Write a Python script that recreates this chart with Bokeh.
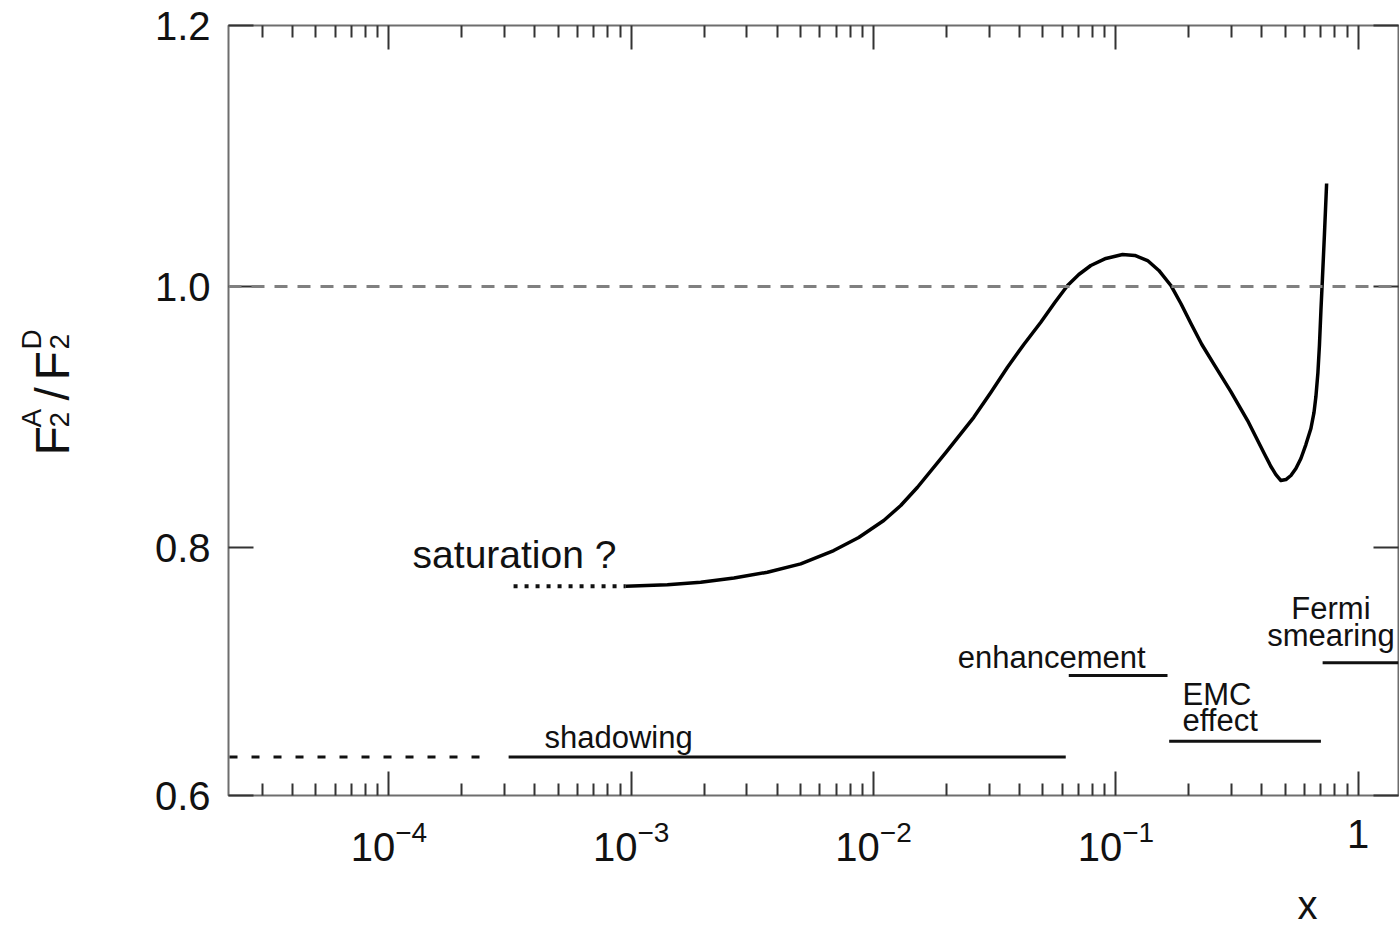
from bokeh.plotting import figure
from bokeh.layouts import row, column
from bokeh.models import (FixedTicker, LogAxis, LinearAxis, LogTickFormatter,
                          CustomJSTickFormatter, Label, Span, Range1d)
from bokeh.embed import file_html
from bokeh.resources import INLINE

FONT = "Liberation Sans"
INK = "#111111"

# ---- data ----
curve_x = [9.49e-4, 1.410e-3, 1.935e-3, 2.655e-3, 3.648e-3, 5.006e-3, 6.851e-3,
           8.686e-3, 1.102e-2, 1.295e-2, 1.518e-2, 1.986e-2, 2.592e-2, 3.047e-2,
           3.570e-2, 4.169e-2, 4.900e-2, 5.597e-2, 6.318e-2, 7.031e-2, 7.880e-2,
           9.090e-2, 0.1065, 0.1197, 0.1351, 0.1504, 0.1686, 0.1854, 0.2040,
           0.2263, 0.2544, 0.2981, 0.3495, 0.4093, 0.4361, 0.4573, 0.4797,
           0.5030, 0.5275, 0.5531, 0.5800, 0.6081, 0.6378, 0.6567, 0.6689,
           0.6818, 0.6916, 0.7015, 0.7116, 0.7253, 0.7405]
curve_y = [0.7703, 0.7714, 0.7734, 0.7766, 0.7811, 0.7875, 0.7977,
           0.8077, 0.8207, 0.8322, 0.8462, 0.8728, 0.8998, 0.9188,
           0.9382, 0.9556, 0.9726, 0.9877, 1.0008, 1.0092, 1.0161,
           1.0215, 1.0245, 1.0238, 1.0199, 1.0123, 1.0008, 0.9870, 0.9716,
           0.9556, 0.9402, 0.9195, 0.8973, 0.8720, 0.8621, 0.8559, 0.8513,
           0.8521, 0.8552, 0.8605, 0.8682, 0.8789, 0.8912, 0.9034, 0.9157,
           0.9341, 0.9548, 0.9816, 1.0061, 1.0399, 1.0789]

saturation_x = [3.27e-4, 9.49e-4]
saturation_y = [0.7703, 0.7703]

shadowing_ext_x = [2.2e-5, 2.52e-4]
shadowing_ext_y = [0.6395, 0.6395]
shadowing_x = [3.12e-4, 0.0621]
shadowing_y = [0.6395, 0.6395]

enhancement_x = [0.0639, 0.1633]
enhancement_y = [0.7019, 0.7019]

emc_x = [0.1659, 0.7015]
emc_y = [0.6516, 0.6516]

fermi_x = [0.7129, 1.466]
fermi_y = [0.7117, 0.7117]

unity = 1.0

x_major = [1e-4, 1e-3, 1e-2, 1e-1, 1.0]
x_minor = [m * 10.0 ** e for e in range(-5, 1) for m in range(2, 10)]
y_ticks = [0.61, 0.8, 1.0, 1.2]
y_tick_labels = {0.61: "0.6", 0.8: "0.8", 1.0: "1.0", 1.2: "1.2"}

TITLE_W = 100   # left strip holding the rotated y-axis title
XLAB_H = 50     # bottom strip holding the x-axis title
W, H = 1399, 928

# ---- main figure ----
p = figure(width=W - TITLE_W, height=H - XLAB_H, x_axis_type="log",
           x_range=Range1d(2.179e-5, 1.466), y_range=Range1d(0.61, 1.2),
           output_backend="svg", toolbar_location=None,
           min_border_left=228 - TITLE_W, min_border_right=1, min_border_top=25,
           min_border_bottom=133 - XLAB_H)
p.grid.visible = False
p.background_fill_color = "white"
p.border_fill_color = "white"
p.outline_line_color = "#6e6e6e"
p.outline_line_width = 2

blank = CustomJSTickFormatter(code="return ''")


def style_axis(ax, major_len, minor_len, labels=True):
    ax.axis_line_color = None
    ax.major_tick_in = major_len
    ax.major_tick_out = 0
    ax.minor_tick_in = minor_len
    ax.minor_tick_out = 0
    ax.major_tick_line_color = "#333333"
    ax.major_tick_line_width = 2
    ax.minor_tick_line_color = "#333333" if minor_len else None
    ax.minor_tick_line_width = 2
    if labels:
        ax.major_label_text_font = FONT
        ax.major_label_text_font_size = "40px"
        ax.major_label_text_color = INK
    else:
        ax.major_label_text_font_size = "1px"
        ax.major_label_standoff = 0


xb = p.xaxis[0]
xb.ticker = FixedTicker(ticks=x_major, minor_ticks=x_minor)
xb.formatter = LogTickFormatter(min_exponent=1)
style_axis(xb, 24, 12)
xb.major_label_standoff = 24

xt = LogAxis(ticker=FixedTicker(ticks=x_major, minor_ticks=x_minor), formatter=blank)
style_axis(xt, 24, 12, labels=False)
p.add_layout(xt, "above")

yl = p.yaxis[0]
yl.ticker = FixedTicker(ticks=y_ticks)
yl.major_label_overrides = y_tick_labels
style_axis(yl, 25, 0)
yl.major_label_standoff = 18

yr = LinearAxis(ticker=FixedTicker(ticks=y_ticks), formatter=blank)
style_axis(yr, 25, 0, labels=False)
p.add_layout(yr, "right")

# reference line at 1
p.add_layout(Span(location=unity, dimension="width", line_color="#808080",
                  line_width=3, line_dash="13 10"))

# curve and region markers
p.line(curve_x, curve_y, line_color="black", line_width=3.5, line_join="round")
p.line(saturation_x, saturation_y, line_color=INK, line_width=4, line_dash="4 7")
p.line(shadowing_ext_x, shadowing_ext_y, line_color=INK, line_width=3, line_dash="8 14")
p.line(shadowing_x, shadowing_y, line_color=INK, line_width=3)
p.line(enhancement_x, enhancement_y, line_color=INK, line_width=3)
p.line(emc_x, emc_y, line_color=INK, line_width=3)
p.line(fermi_x, fermi_y, line_color=INK, line_width=3)


def note(fig, text, x, y, size, align="left", angle=0):
    fig.add_layout(Label(x=x, y=y, text=text, text_font=FONT,
                         text_font_size=f"{size}px", text_color=INK,
                         text_align=align, text_baseline="alphabetic",
                         angle=angle, angle_units="deg"))


note(p, "saturation ?", 1.253e-4, 0.7948, 39)
note(p, "shadowing", 8.87e-4, 0.6545, 31, "center")
note(p, "enhancement", 0.05438, 0.7156, 31, "center")
note(p, "EMC", 0.1884, 0.6875, 31)
note(p, "effect", 0.1884, 0.6676, 31)
note(p, "Fermi", 0.7713, 0.7532, 31, "center")
note(p, "smearing", 0.7713, 0.7327, 31, "center")


def strip(w, h, x0=0, x1=None):
    f = figure(width=w, height=h, x_range=Range1d(x0, w if x1 is None else x1),
               y_range=Range1d(0, h), output_backend="svg",
               toolbar_location=None, min_border=0,
               x_axis_location=None, y_axis_location=None)
    f.grid.visible = False
    f.outline_line_color = None
    f.background_fill_color = "white"
    f.border_fill_color = "white"
    return f


# ---- x-axis title strip (its frame lines up with the main frame) ----
b = strip(W - TITLE_W, XLAB_H, 228, 1397)
note(b, "x", 1306, 23.5, 40, "center")

# ---- y-axis title strip: F_2^A / F_2^D, rotated, stacked sub/superscripts ----
t = strip(TITLE_W, H)
note(t, "F", 52.2, 473, 48, angle=90)
note(t, "A", 30.8, 501, 28, angle=90)
note(t, "2", 58.8, 501, 28, angle=90)
note(t, "/", 52.2, 528, 48, angle=90)
note(t, "F", 52.2, 548, 48, angle=90)
note(t, "D", 30.8, 579, 28, angle=90)
note(t, "2", 58.8, 579, 28, angle=90)

layout = row(t, column(p, b))
open("out.html", "w").write(file_html(layout, INLINE))
